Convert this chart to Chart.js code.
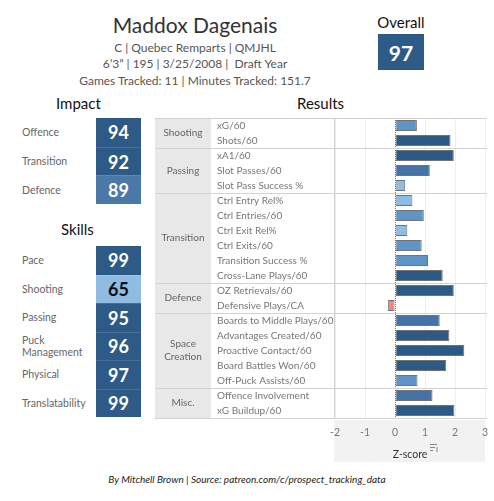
<!DOCTYPE html>
<html>
<head>
<meta charset="utf-8">
<script src="https://cdn.jsdelivr.net/npm/chart.js@4.4.0/dist/chart.umd.min.js"></script>
<style>
  body { margin: 0; background: #fff; font-family: Lato, "Noto Sans", sans-serif; }
  #page { position: relative; width: 494px; height: 501px; overflow: hidden; }
  .t { position: absolute; white-space: nowrap; }
  .box { position: absolute; left: 96px; width: 45px; color: #fff; font-size: 18px; font-weight: 700;
         display: flex; align-items: center; justify-content: center; box-sizing: border-box; }
  .lab { position: absolute; left: 22px; font-size: 10.5px; color: #666; line-height: 12px; }
  #results { position: absolute; left: 155px; top: 117px; width: 335px; height: 348px; }
</style>
</head>
<body>
<div id="page">
  <div class="t" style="left:0;width:390px;top:12px;text-align:center;font-size:21px;color:#333;">Maddox Dagenais</div>
  <div class="t" style="left:0;width:390px;top:40px;text-align:center;font-size:12px;color:#555;">C | Quebec Remparts | QMJHL</div>
  <div class="t" style="left:0;width:390px;top:56px;text-align:center;font-size:12px;color:#555;">6’3” | 195 | 3/25/2008 |&nbsp; Draft Year</div>
  <div class="t" style="left:0;width:390px;top:73px;text-align:center;font-size:12px;color:#555;">Games Tracked: 11 | Minutes Tracked: 151.7</div>

  <div class="t" style="left:360px;width:82px;top:13px;text-align:center;font-size:15px;color:#111;">Overall</div>
  <div class="box" style="left:378px;width:46px;top:34px;height:36px;background:#2d5a87;font-size:21px;">97</div>

  <div class="t" style="left:56px;top:94px;font-size:15px;color:#111;">Impact</div>
  <div class="t" style="left:297px;top:94px;font-size:15px;color:#111;">Results</div>
  <div class="t" style="left:61px;top:220px;font-size:15px;color:#111;">Skills</div>

  <div id="impact"></div>
  <div id="skills"></div>

  <canvas id="results" width="335" height="348"></canvas>

  <div class="t" style="left:0;width:494px;top:473px;text-align:center;font-size:10px;font-style:italic;color:#222;">By Mitchell Brown | Source: patreon.com/c/prospect_tracking_data</div>
</div>

<script>
let impactLabels = ['Offence', 'Transition', 'Defence'];
let impactScores = [94, 92, 89];

let skillLabels = ['Pace', 'Shooting', 'Passing', 'Puck\nManagement', 'Physical', 'Translatability'];
let skillScores = [99, 65, 95, 96, 97, 99];

let groupNames = ['Shooting', 'Passing', 'Transition', 'Defence', 'Space\nCreation', 'Misc.'];
let groupSizes = [2, 3, 6, 2, 5, 2];

let metricLabels = ['xG/60', 'Shots/60', 'xA1/60', 'Slot Passes/60', 'Slot Pass Success %',
  'Ctrl Entry Rel%', 'Ctrl Entries/60', 'Ctrl Exit Rel%', 'Ctrl Exits/60', 'Transition Success %', 'Cross-Lane Plays/60',
  'OZ Retrievals/60', 'Defensive Plays/CA',
  'Boards to Middle Plays/60', 'Advantages Created/60', 'Proactive Contact/60', 'Board Battles Won/60', 'Off-Puck Assists/60',
  'Offence Involvement', 'xG Buildup/60'];
let zScores = [0.73, 1.85, 1.96, 1.16, 0.34,
  0.58, 0.96, 0.41, 0.89, 1.10, 1.59,
  1.96, -0.23,
  1.49, 1.81, 2.31, 1.71, 0.75,
  1.25, 1.98];

let xTicks = [-2, -1, 0, 1, 2, 3];

function scoreColor(s) {
  if (s >= 90) return '#2d5a87';
  if (s >= 80) return '#4a78a8';
  return '#8fbce0';
}

function zColor(z) {
  if (z < 0) return '#f4837a';
  if (z < 0.65) return '#8ebde3';
  if (z < 1.13) return '#5f95c6';
  if (z < 1.55) return '#4572a7';
  return '#2c5985';
}

function buildBoxes(id, labels, scores, top, rowH) {
  let host = document.getElementById(id);
  labels.forEach(function (l, i) {
    let y = top + i * rowH;
    let lab = document.createElement('div');
    lab.className = 'lab';
    lab.innerHTML = l.replace('\n', '<br>');
    host.appendChild(lab);
    lab.style.top = (y + rowH / 2 - lab.offsetHeight / 2) + 'px';
    let b = document.createElement('div');
    b.className = 'box';
    b.style.top = y + 'px';
    b.style.height = rowH + 'px';
    b.style.background = scoreColor(scores[i]);
    if (scores[i] < 80) b.style.color = '#111';
    if (i > 0) b.style.borderTop = '1px solid rgba(255,255,255,0.12)';
    b.textContent = scores[i];
    host.appendChild(b);
  });
}
buildBoxes('impact', impactLabels, impactScores, 118, 28.7);
buildBoxes('skills', skillLabels, skillScores, 246, 28.5);

const tablePlugin = {
  id: 'tablePlugin',
  beforeDraw(chart) {
    const ctx = chart.ctx, a = chart.chartArea;
    ctx.save();
    // group column background
    ctx.fillStyle = '#e8e8e8';
    ctx.fillRect(0, a.top, 56, a.bottom - a.top);
    // axis background
    ctx.fillStyle = '#f2f2f2';
    ctx.fillRect(a.left - 1, a.bottom + 2, a.right - a.left + 1, chart.height - a.bottom - 5);
    ctx.restore();
  },
  afterDatasetsDraw(chart) {
    const ctx = chart.ctx, a = chart.chartArea, y = chart.scales.y, x = chart.scales.x;
    const rowH = y.getPixelForValue(1) - y.getPixelForValue(0);
    ctx.save();
    // zero line, dotted
    const x0 = Math.round(x.getPixelForValue(0)) + 0.5;
    ctx.strokeStyle = '#777';
    ctx.lineWidth = 1;
    ctx.setLineDash([1, 1]);
    ctx.beginPath(); ctx.moveTo(x0, a.top); ctx.lineTo(x0, a.bottom); ctx.stroke();
    ctx.setLineDash([]);
    // separators
    ctx.strokeStyle = '#d2d2d2';
    let start = 0;
    const lineAt = function (py) {
      py = Math.round(py) + 0.5;
      ctx.beginPath(); ctx.moveTo(0, py); ctx.lineTo(a.right + 2, py); ctx.stroke();
    };
    lineAt(a.top);
    ctx.beginPath(); ctx.moveTo(a.left - 0.5, a.top); ctx.lineTo(a.left - 0.5, a.bottom); ctx.stroke();
    ctx.font = '10px Lato, "Noto Sans", sans-serif';
    ctx.textBaseline = 'middle';
    groupSizes.forEach(function (n, g) {
      const top = y.getPixelForValue(start) - rowH / 2;
      const bot = y.getPixelForValue(start + n - 1) + rowH / 2;
      lineAt(bot);
      ctx.fillStyle = '#666';
      ctx.textAlign = 'center';
      const lines = groupNames[g].split('\n');
      const mid = (top + bot) / 2;
      lines.forEach(function (t, k) {
        ctx.fillText(t, 28, mid + (k - (lines.length - 1) / 2) * 13);
      });
      start += n;
    });
    ctx.textAlign = 'left';
    ctx.fillStyle = '#777';
    metricLabels.forEach(function (m, i) {
      ctx.fillText(m, 62, y.getPixelForValue(i) + 0.5);
    });
    // sort icon next to axis title
    const ix = (a.left + a.right) / 2 + 20, iy = chart.height - 17;
    ctx.strokeStyle = '#888';
    ctx.beginPath();
    ctx.moveTo(ix, iy - 3.5); ctx.lineTo(ix + 7, iy - 3.5);
    ctx.moveTo(ix, iy - 0.5); ctx.lineTo(ix + 5, iy - 0.5);
    ctx.moveTo(ix, iy + 2.5); ctx.lineTo(ix + 3, iy + 2.5);
    ctx.moveTo(ix + 7, iy - 1); ctx.lineTo(ix + 7, iy + 4);
    ctx.stroke();
    ctx.restore();
  }
};

new Chart(document.getElementById('results'), {
  type: 'bar',
  data: {
    labels: metricLabels,
    datasets: [{
      data: zScores,
      backgroundColor: zScores.map(zColor),
      borderColor: 'rgba(90,90,90,0.85)',
      borderWidth: 1,
      borderSkipped: false,
      barPercentage: 0.74,
      categoryPercentage: 1
    }]
  },
  options: {
    indexAxis: 'y',
    responsive: false,
    animation: false,
    layout: { autoPadding: false, padding: { left: 180, right: 5, top: 1, bottom: 0 } },
    plugins: { legend: { display: false }, tooltip: { enabled: false } },
    scales: {
      y: { display: false },
      x: {
        min: -2, max: 3,
        afterBuildTicks: function (s) { s.ticks = xTicks.map(function (v) { return { value: v }; }); },
        afterFit: function (s) { s.height = 47; s.paddingLeft = 0; s.paddingRight = 0; },
        grid: {
          color: function (c) { return c.tick && c.tick.value === 0 ? 'rgba(0,0,0,0)' : '#eeeeee'; },
          drawTicks: false
        },
        border: { display: false },
        ticks: { color: '#777', padding: 8, font: { size: 10.5, family: 'Lato' } },
        title: { display: true, text: 'Z-score', color: '#333', font: { size: 10.5, family: 'Lato' }, padding: { top: 6 } }
      }
    }
  },
  plugins: [tablePlugin]
});
</script>
</body>
</html>
